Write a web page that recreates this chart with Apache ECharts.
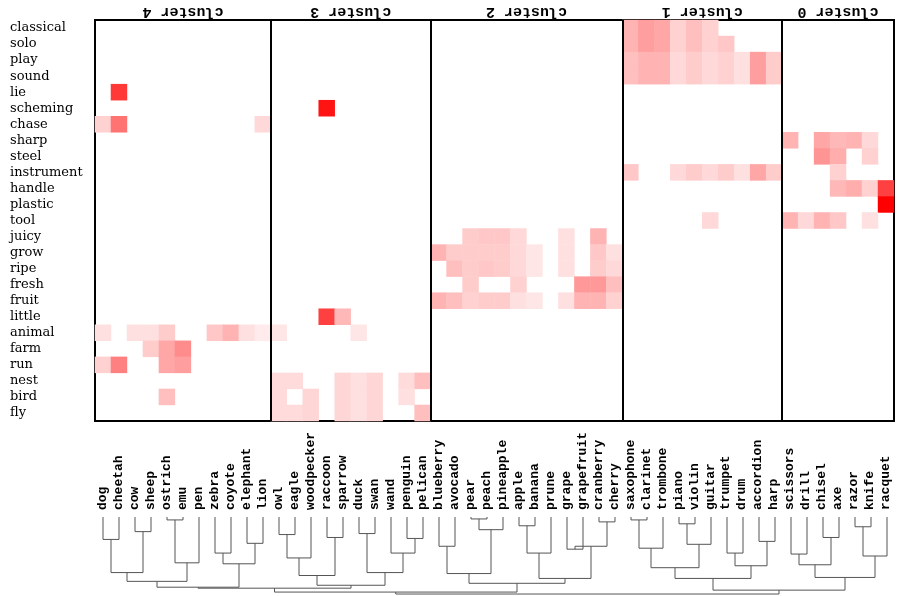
<!DOCTYPE html>
<html>
<head>
<meta charset="utf-8">
<script src="https://cdn.jsdelivr.net/npm/echarts@6/dist/echarts.min.js"></script>
<style>
html, body { margin: 0; padding: 0; background: #fff; }
#chart { width: 897px; height: 596px; }
</style>
</head>
<body>
<div id="chart"></div>
<script>
var words = ['dog', 'cheetah', 'cow', 'sheep', 'ostrich', 'emu', 'pen', 'zebra', 'coyote', 'elephant', 'lion',
  'owl', 'eagle', 'woodpecker', 'raccoon', 'sparrow', 'duck', 'swan', 'wand', 'penguin', 'pelican',
  'blueberry', 'avocado', 'pear', 'peach', 'pineapple', 'apple', 'banana', 'prune', 'grape', 'grapefruit', 'cranberry', 'cherry',
  'saxophone', 'clarinet', 'trombone', 'piano', 'violin', 'guitar', 'trumpet', 'drum', 'accordion', 'harp',
  'scissors', 'drill', 'chisel', 'axe', 'razor', 'knife', 'racquet'];
var features = ['classical', 'solo', 'play', 'sound', 'lie', 'scheming', 'chase', 'sharp', 'steel', 'instrument',
  'handle', 'plastic', 'tool', 'juicy', 'grow', 'ripe', 'fresh', 'fruit', 'little', 'animal', 'farm', 'run',
  'nest', 'bird', 'fly'];
var clusterNames = ['cluster 4', 'cluster 3', 'cluster 2', 'cluster 1', 'cluster 0'];
var clusterSizes = [11, 10, 12, 10, 7];

// non-zero cells: [word, feature, value]
var cells = [
  ['cheetah', 'lie', 0.78],
  ['dog', 'chase', 0.18], ['cheetah', 'chase', 0.55], ['lion', 'chase', 0.15],
  ['dog', 'animal', 0.12], ['cow', 'animal', 0.12], ['sheep', 'animal', 0.12], ['ostrich', 'animal', 0.2],
  ['zebra', 'animal', 0.22], ['coyote', 'animal', 0.3], ['elephant', 'animal', 0.12], ['lion', 'animal', 0.08],
  ['owl', 'animal', 0.1], ['duck', 'animal', 0.1],
  ['sheep', 'farm', 0.2], ['ostrich', 'farm', 0.35], ['emu', 'farm', 0.45],
  ['dog', 'run', 0.18], ['cheetah', 'run', 0.5], ['ostrich', 'run', 0.35], ['emu', 'run', 0.38],
  ['ostrich', 'bird', 0.25],
  ['raccoon', 'scheming', 0.92],
  ['raccoon', 'little', 0.75], ['sparrow', 'little', 0.28],
  ['owl', 'nest', 0.14], ['eagle', 'nest', 0.14], ['sparrow', 'nest', 0.16], ['duck', 'nest', 0.12],
  ['swan', 'nest', 0.16], ['penguin', 'nest', 0.14], ['pelican', 'nest', 0.25],
  ['owl', 'bird', 0.14], ['woodpecker', 'bird', 0.16], ['sparrow', 'bird', 0.16], ['duck', 'bird', 0.12],
  ['swan', 'bird', 0.16], ['penguin', 'bird', 0.12],
  ['owl', 'fly', 0.14], ['eagle', 'fly', 0.14], ['woodpecker', 'fly', 0.16], ['sparrow', 'fly', 0.16],
  ['duck', 'fly', 0.12], ['swan', 'fly', 0.16], ['pelican', 'fly', 0.25],
  ['pear', 'juicy', 0.2], ['peach', 'juicy', 0.22], ['pineapple', 'juicy', 0.22], ['apple', 'juicy', 0.15],
  ['grape', 'juicy', 0.12], ['cranberry', 'juicy', 0.3],
  ['blueberry', 'grow', 0.3], ['avocado', 'grow', 0.2], ['pear', 'grow', 0.2], ['peach', 'grow', 0.2],
  ['pineapple', 'grow', 0.2], ['apple', 'grow', 0.15], ['banana', 'grow', 0.1], ['grape', 'grow', 0.12],
  ['cranberry', 'grow', 0.22], ['cherry', 'grow', 0.12],
  ['avocado', 'ripe', 0.25], ['pear', 'ripe', 0.2], ['peach', 'ripe', 0.22], ['pineapple', 'ripe', 0.2],
  ['apple', 'ripe', 0.15], ['banana', 'ripe', 0.1], ['grape', 'ripe', 0.12], ['cranberry', 'ripe', 0.2],
  ['cherry', 'ripe', 0.15],
  ['pear', 'fresh', 0.2], ['apple', 'fresh', 0.18], ['grapefruit', 'fresh', 0.4], ['cranberry', 'fresh', 0.4],
  ['cherry', 'fresh', 0.25],
  ['blueberry', 'fruit', 0.3], ['avocado', 'fruit', 0.25], ['pear', 'fruit', 0.18], ['peach', 'fruit', 0.2],
  ['pineapple', 'fruit', 0.2], ['apple', 'fruit', 0.12], ['banana', 'fruit', 0.1], ['grape', 'fruit', 0.12],
  ['grapefruit', 'fruit', 0.3], ['cranberry', 'fruit', 0.3], ['cherry', 'fruit', 0.18],
  ['saxophone', 'classical', 0.3], ['clarinet', 'classical', 0.38], ['trombone', 'classical', 0.35],
  ['piano', 'classical', 0.18], ['violin', 'classical', 0.25], ['guitar', 'classical', 0.18],
  ['saxophone', 'solo', 0.3], ['clarinet', 'solo', 0.38], ['trombone', 'solo', 0.35], ['piano', 'solo', 0.18],
  ['violin', 'solo', 0.25], ['guitar', 'solo', 0.18], ['trumpet', 'solo', 0.22],
  ['saxophone', 'play', 0.25], ['clarinet', 'play', 0.3], ['trombone', 'play', 0.3], ['piano', 'play', 0.15],
  ['violin', 'play', 0.2], ['guitar', 'play', 0.15], ['trumpet', 'play', 0.18], ['drum', 'play', 0.12],
  ['accordion', 'play', 0.38], ['harp', 'play', 0.2],
  ['saxophone', 'sound', 0.25], ['clarinet', 'sound', 0.3], ['trombone', 'sound', 0.3], ['piano', 'sound', 0.15],
  ['violin', 'sound', 0.2], ['guitar', 'sound', 0.15], ['trumpet', 'sound', 0.18], ['drum', 'sound', 0.12],
  ['accordion', 'sound', 0.38], ['harp', 'sound', 0.2],
  ['saxophone', 'instrument', 0.22], ['piano', 'instrument', 0.15], ['violin', 'instrument', 0.2],
  ['guitar', 'instrument', 0.15], ['trumpet', 'instrument', 0.2], ['drum', 'instrument', 0.12],
  ['accordion', 'instrument', 0.35], ['harp', 'instrument', 0.2],
  ['guitar', 'tool', 0.15],
  ['scissors', 'sharp', 0.3], ['chisel', 'sharp', 0.35], ['axe', 'sharp', 0.28], ['razor', 'sharp', 0.3],
  ['knife', 'sharp', 0.15],
  ['chisel', 'steel', 0.42], ['axe', 'steel', 0.32], ['knife', 'steel', 0.18],
  ['axe', 'instrument', 0.18],
  ['axe', 'handle', 0.28], ['razor', 'handle', 0.32], ['knife', 'handle', 0.18], ['racquet', 'handle', 0.75],
  ['racquet', 'plastic', 1.0],
  ['scissors', 'tool', 0.3], ['drill', 'tool', 0.15], ['chisel', 'tool', 0.3], ['axe', 'tool', 0.22],
  ['knife', 'tool', 0.12]
];

// dendrogram merges: [node a, node b, height]; leaves are 0..49, merge k gets id 50 + k
var merges = [
  [0, 1, 23], [2, 3, 15], [4, 5, 3], [50, 51, 57], [52, 6, 47], [7, 8, 37], [9, 10, 27], [55, 56, 48],
  [53, 54, 66], [58, 57, 72],
  [11, 12, 18], [60, 13, 42], [14, 15, 21], [61, 62, 60], [16, 17, 17], [19, 20, 22], [18, 65, 37],
  [64, 66, 57], [63, 67, 70], [59, 68, 73],
  [21, 22, 30], [23, 24, 2], [71, 25, 13], [26, 27, 9], [73, 28, 37], [29, 30, 33], [31, 32, 5],
  [75, 76, 30], [70, 72, 58], [74, 77, 63], [78, 79, 68],
  [33, 34, 3], [81, 35, 32], [36, 37, 7], [83, 38, 28], [82, 84, 52], [41, 42, 25], [39, 40, 37],
  [87, 86, 50], [85, 88, 63],
  [43, 44, 38], [45, 46, 21], [90, 91, 49], [47, 48, 10], [93, 49, 40], [92, 94, 62],
  [89, 95, 75], [69, 80, 77], [97, 96, 79]
];

var heatData = cells.map(function (c) {
  return [words.indexOf(c[0]), features.indexOf(c[1]), c[2]];
});

var bounds = [], centers = [], s = 0;
clusterSizes.forEach(function (n) {
  centers.push(s + n / 2);
  s += n;
  bounds.push(s);
});
bounds.pop();
var titleAt = {};
centers.forEach(function (c, i) { titleAt[c] = clusterNames[i]; });

var nodeX = words.map(function (w, i) { return i + 0.5; });
var nodeH = words.map(function () { return 0; });
var links = [];
merges.forEach(function (m) {
  var a = m[0], b = m[1], h = m[2];
  links.push([nodeX[a], nodeH[a], nodeX[b], nodeH[b], h]);
  nodeX.push((nodeX[a] + nodeX[b]) / 2);
  nodeH.push(h);
});

var font = 'DejaVu Serif';
var mono = 'Liberation Mono';
var myChart = echarts.init(document.getElementById('chart'));
var option = {
  animation: false,
  backgroundColor: '#fff',
  grid: [
    { left: 95, top: 20, width: 800, height: 401, show: true, borderColor: '#000', borderWidth: 2 },
    { left: 95, top: 517, width: 800, height: 78 }
  ],
  xAxis: [
    { type: 'category', data: words, gridIndex: 0, show: false },
    {
      type: 'category', data: words, gridIndex: 0, position: 'bottom', offset: 89,
      axisLine: { show: false }, axisTick: { show: false },
      axisLabel: { inside: true, rotate: 90, interval: 0, margin: 0, fontFamily: mono, fontWeight: 'bold', fontSize: 13, color: '#000' }
    },
    {
      type: 'value', gridIndex: 0, position: 'top', min: 0, max: 50, interval: 0.5,
      axisLine: { show: false }, axisTick: { show: false }, splitLine: { show: false },
      axisLabel: {
        rotate: 180, margin: 1, fontFamily: mono, fontWeight: 'bold', fontSize: 15, color: '#000',
        formatter: function (v) { return titleAt[v] || ''; }
      }
    },
    { type: 'value', gridIndex: 1, min: 0, max: 50, show: false }
  ],
  yAxis: [
    {
      type: 'category', data: features, gridIndex: 0, inverse: true,
      axisLine: { show: false }, axisTick: { show: false },
      axisLabel: { interval: 0, align: 'left', margin: 85, fontFamily: font, fontSize: 13, color: '#000' }
    },
    { type: 'value', gridIndex: 1, min: 0, max: 80, inverse: true, show: false }
  ],
  visualMap: {
    show: false, seriesIndex: 0, min: 0, max: 1,
    inRange: { color: ['#ffffff', '#ff0000'] }
  },
  series: [
    {
      type: 'heatmap', xAxisIndex: 0, yAxisIndex: 0, data: heatData,
      itemStyle: { borderWidth: 0 }
    },
    {
      type: 'line', xAxisIndex: 2, yAxisIndex: 0, data: [], silent: true,
      markLine: {
        symbol: 'none', silent: true, label: { show: false },
        lineStyle: { color: '#000', width: 2, type: 'solid' },
        data: bounds.map(function (b) { return { xAxis: b }; })
      }
    },
    {
      type: 'custom', xAxisIndex: 3, yAxisIndex: 1, data: links, silent: true,
      encode: { x: [0, 2], y: [1, 3, 4] },
      renderItem: function (params, api) {
        var p1 = api.coord([api.value(0), api.value(1)]);
        var p2 = api.coord([api.value(0), api.value(4)]);
        var p3 = api.coord([api.value(2), api.value(4)]);
        var p4 = api.coord([api.value(2), api.value(3)]);
        return {
          type: 'polyline',
          shape: { points: [p1, p2, p3, p4] },
          style: { stroke: '#555', fill: null, lineWidth: 1 }
        };
      }
    }
  ]
};
myChart.setOption(option);
</script>
</body>
</html>
